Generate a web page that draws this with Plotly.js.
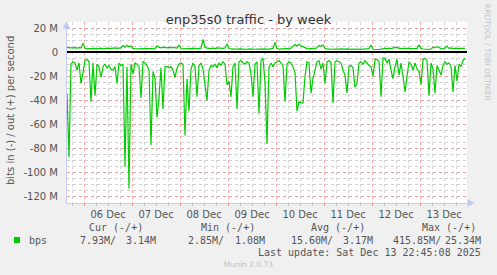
<!DOCTYPE html>
<html><head><meta charset="utf-8">
<script src="https://cdn.plot.ly/plotly-3.0.1.min.js"></script>
<style>html,body{margin:0;padding:0;background:#f0f0f0;}#chart{width:497px;height:275px;}</style>
</head><body><div id="chart"></div>
<script>
// ---- data (values in Mbit/s), hourly samples from the first timestamp ----
const startTime = [2025, 11, 5, 15, 30]; // 2025-12-05 15:30 (month 0-based)
const stepHours = 1;
// inbound traffic (drawn below zero)
const bitsIn = [
 34, 87, 10, 8, 9, 15, 9, 26, 17, 7,
 6, 8, 41, 9, 36, 10, 12, 21, 12, 10,
 13, 11, 14, 15, 12, 26, 9, 11, 10, 95,
 12, 113, 10, 18, 9, 10, 12, 38, 8, 9,
 11, 15, 77, 16, 22, 54, 38, 13, 47, 12,
 12, 13, 12, 15, 21, 13, 10, 9, 10, 69,
 22, 49, 14, 9, 12, 37, 11, 9, 14, 27,
 40, 15, 11, 12, 10, 13, 9, 11, 8, 10,
 27, 24, 37, 12, 9, 47, 8, 7, 9, 10,
 8, 9, 18, 37, 10, 8, 51, 7, 5, 25,
 76, 12, 9, 12, 9, 8, 7, 9, 11, 41,
 10, 8, 9, 12, 17, 49, 41, 42, 42, 20,
 8, 9, 34, 22, 14, 8, 7, 14, 9, 26,
 8, 7, 9, 42, 8, 7, 8, 9, 15, 19,
 34, 12, 11, 13, 29, 26, 9, 8, 10, 7,
 9, 11, 12, 20, 6, 6, 8, 37, 5, 5,
 9, 6, 15, 22, 12, 6, 19, 9, 20, 33,
 20, 8, 10, 15, 9, 14, 16, 27, 6, 5,
 7, 36, 9, 14, 34, 11, 15, 19, 11, 8,
 10, 9, 12, 33, 11, 24, 10, 12, 7, 5
];
// outbound traffic (drawn above zero)
const bitsOut = [
 3.8, 3.6, 3.9, 3.5, 3.7, 3.4, 3.8, 3.5, 7.5, 3.2,
 2.8, 3.0, 2.6, 2.9, 3.1, 2.7, 3.0, 3.3, 2.8, 3.1,
 3.4, 3.0, 3.2, 2.9, 3.5, 3.1, 3.3, 3.6, 5.5, 4.2,
 5.8, 4.5, 5.2, 3.2, 3.0, 2.8, 3.1, 2.7, 3.0, 2.9,
 2.6, 3.0, 3.2, 2.8, 3.1, 5.3, 4.0, 3.6, 4.2, 3.8,
 3.5, 3.9, 3.6, 4.0, 3.7, 3.4, 5.9, 3.0, 2.8, 2.9,
 2.6, 3.0, 2.7, 2.9, 3.1, 2.8, 3.0, 3.3, 10.5, 4.0,
 3.4, 3.1, 2.9, 3.3, 3.0, 3.5, 3.2, 2.9, 3.1, 3.4,
 6.9, 3.0, 2.6, 2.5, 2.8, 2.4, 2.7, 2.5, 2.3, 2.6,
 2.4, 2.7, 2.5, 2.8, 2.4, 2.6, 2.3, 2.5, 2.7, 2.4,
 2.6, 2.5, 2.8, 3.2, 8.0, 3.0, 2.6, 2.8, 2.5, 2.7,
 3.0, 2.6, 3.4, 5.0, 6.4, 5.2, 6.6, 5.4, 4.6, 3.4,
 3.0, 2.8, 3.1, 2.7, 3.0, 3.6, 5.6, 4.8, 5.9, 3.2,
 2.8, 2.5, 2.7, 2.4, 2.6, 2.3, 2.5, 2.7, 2.4, 2.6,
 2.8, 2.5, 2.3, 2.6, 2.4, 2.7, 2.5, 2.3, 2.6, 2.8,
 2.5, 2.9, 6.0, 2.4, 2.2, 2.0, 2.3, 2.5, 2.9, 3.2,
 3.0, 3.3, 2.9, 3.6, 4.0, 3.8, 3.2, 2.9, 3.1, 3.3,
 3.0, 3.2, 2.9, 3.1, 3.3, 3.0, 6.2, 3.1, 2.6, 2.4,
 2.5, 2.3, 2.6, 4.2, 3.5, 4.6, 3.8, 2.8, 3.0, 3.3,
 5.0, 3.2, 3.5, 3.0, 3.3, 2.9, 3.2, 3.4, 3.1, 3.1
];
const xRange = ['2025-12-05 15:30', '2025-12-13 23:30'];
const yTickVals = [20, 0, -20, -40, -60, -80, -100, -120];
const yTickText = ['20 M', '0', '-20 M', '-40 M', '-60 M', '-80 M', '-100 M', '-120 M'];
const legendHeads = ['Cur (-/+)', 'Min (-/+)', 'Avg (-/+)', 'Max (-/+)'];
const legendIn = ['7.93M/', '2.85M/', '15.60M/', '415.85M/'];
const legendOut = ['3.14M', '1.08M', '3.17M', '25.34M'];
const seriesName = 'bps';
const titleText = 'enp35s0 traffic - by week';
const yTitle = 'bits in (-) / out (+) per second';
const lastUpdate = 'Last update: Sat Dec 13 22:45:08 2025';
const footer = 'Munin 2.0.73';
const sideText = 'RRDTOOL / TOBI OETIKER';

// ---- build ----
function pad(n){return (n<10?'0':'')+n;}
const t0 = Date.UTC(startTime[0], startTime[1], startTime[2], startTime[3], startTime[4]);
function timeAt(i){
  const d = new Date(t0 + i*stepHours*3600000);
  return d.getUTCFullYear()+'-'+pad(d.getUTCMonth()+1)+'-'+pad(d.getUTCDate())+' '+pad(d.getUTCHours())+':'+pad(d.getUTCMinutes());
}
const xIn = bitsIn.map((v,i)=>timeAt(i));
const xOut = bitsOut.map((v,i)=>timeAt(i));

const W=497, H=275, L=67, R=30, T=22, B=72;
const PW = W-L-R, PH = H-T-B;
const xp = px => (px-L)/PW;
const yp = py => (H-B-py)/PH;

const green = '#00cc00';
const traces = [
  {x:xOut, y:bitsOut, type:'scatter', mode:'lines', line:{color:green, width:1.2}, hoverinfo:'skip'},
  {x:xIn, y:bitsIn.map(v=>-v), type:'scatter', mode:'lines', line:{color:green, width:1.2}, hoverinfo:'skip'}
];

const mono = 'DejaVu Sans Mono';
const txtCol = '#555555';
const ann = [];
ann.push({xref:'paper', yref:'paper', x:xp(10), y:yp(111), text:yTitle, textangle:-90, showarrow:false,
  font:{family:'DejaVu Sans', size:10, color:txtCol}, xanchor:'center', yanchor:'middle'});
ann.push({xref:'paper', yref:'paper', x:xp(488), y:yp(52), text:sideText, textangle:90, showarrow:false,
  font:{family:'DejaVu Sans', size:7.5, color:'#c4c4c4'}, xanchor:'center', yanchor:'middle'});
const headX = [115.5, 227.5, 338.3, 449.3];
legendHeads.forEach((h,k)=>ann.push({xref:'paper', yref:'paper', x:xp(headX[k]), y:yp(227.5), text:h, showarrow:false,
  font:{family:mono, size:10, color:txtCol}, xanchor:'center', yanchor:'middle'}));
const inX = [78.3, 186, 289.3, 390.7];
const outX = [157.7, 266.7, 375, 482.7];
legendIn.forEach((s,k)=>ann.push({xref:'paper', yref:'paper', x:xp(inX[k]), y:yp(240), text:s, showarrow:false,
  font:{family:mono, size:10, color:txtCol}, xanchor:'left', yanchor:'middle'}));
legendOut.forEach((s,k)=>ann.push({xref:'paper', yref:'paper', x:xp(outX[k]), y:yp(240), text:s, showarrow:false,
  font:{family:mono, size:10, color:txtCol}, xanchor:'right', yanchor:'middle'}));
ann.push({xref:'paper', yref:'paper', x:xp(26.5), y:yp(240), text:seriesName, showarrow:false,
  font:{family:mono, size:10, color:txtCol}, xanchor:'left', yanchor:'middle'});
ann.push({xref:'paper', yref:'paper', x:xp(482.5), y:yp(252), text:lastUpdate, showarrow:false,
  font:{family:mono, size:10, color:txtCol}, xanchor:'right', yanchor:'middle'});
ann.push({xref:'paper', yref:'paper', x:xp(248), y:yp(264), text:footer, showarrow:false,
  font:{family:'DejaVu Sans', size:7.5, color:'#c0c0c0'}, xanchor:'center', yanchor:'middle'});
// axis arrows
ann.push({xref:'paper', yref:'paper', x:xp(475), y:yp(203), ax:-7, ay:0, text:'', showarrow:true,
  arrowhead:2, arrowsize:1, arrowwidth:1.5, arrowcolor:'#c0c8f8'});
ann.push({xref:'paper', yref:'paper', x:xp(66.5), y:yp(21), ax:0, ay:7, text:'', showarrow:true,
  arrowhead:2, arrowsize:1, arrowwidth:1.5, arrowcolor:'#c0c8f8'});

const shapes = [
  {type:'rect', xref:'paper', yref:'paper', x0:xp(14), x1:xp(20), y0:yp(243), y1:yp(237), fillcolor:green, line:{width:0}}
];

const majorGrid = 'rgba(235,150,150,0.85)';
const minorGrid = 'rgba(190,190,190,0.7)';
const axisLine = '#c8ccf4';

const layout = {
  width:W, height:H, margin:{l:L, r:R, t:T, b:B, pad:0},
  paper_bgcolor:'#f0f0f0', plot_bgcolor:'#ffffff', showlegend:false,
  font:{family:'DejaVu Sans', size:10, color:txtCol},
  title:{text:titleText, font:{family:'DejaVu Sans', size:13, color:'#333333'},
    x:0.5, xref:'container', xanchor:'center', y:1-19/H, yref:'container', yanchor:'middle'},
  xaxis:{type:'date', range:xRange, tickmode:'linear', dtick:86400000, tick0:'2025-12-06',
    tickformat:'%d %b', ticklabelmode:'period', showgrid:true, gridcolor:majorGrid, griddash:'dot', gridwidth:1,
    ticks:'outside', ticklen:2, tickcolor:'#e09090', showline:true, linecolor:axisLine, linewidth:1,
    zeroline:false, fixedrange:true, tickfont:{family:'DejaVu Sans', size:10, color:txtCol},
    minor:{tickmode:'linear', dtick:21600000, tick0:'2025-12-06', showgrid:true, gridcolor:minorGrid, griddash:'dot', gridwidth:1,
      ticks:'outside', ticklen:2, tickcolor:'#bbbbbb'}},
  yaxis:{range:[-125, 25], tickmode:'array', tickvals:yTickVals, ticktext:yTickText,
    showgrid:true, gridcolor:majorGrid, griddash:'dot', gridwidth:1, ticks:'', ticklabelstandoff:6,
    showline:true, linecolor:axisLine, linewidth:1, zeroline:true, zerolinecolor:'#000000', zerolinewidth:2,
    fixedrange:true, tickfont:{family:'DejaVu Sans', size:10, color:txtCol},
    minor:{tickmode:'linear', dtick:5, tick0:0, showgrid:true, gridcolor:minorGrid, griddash:'dot', gridwidth:1}},
  annotations:ann, shapes:shapes
};
Plotly.newPlot('chart', traces, layout, {staticPlot:true, displayModeBar:false});
</script></body></html>
